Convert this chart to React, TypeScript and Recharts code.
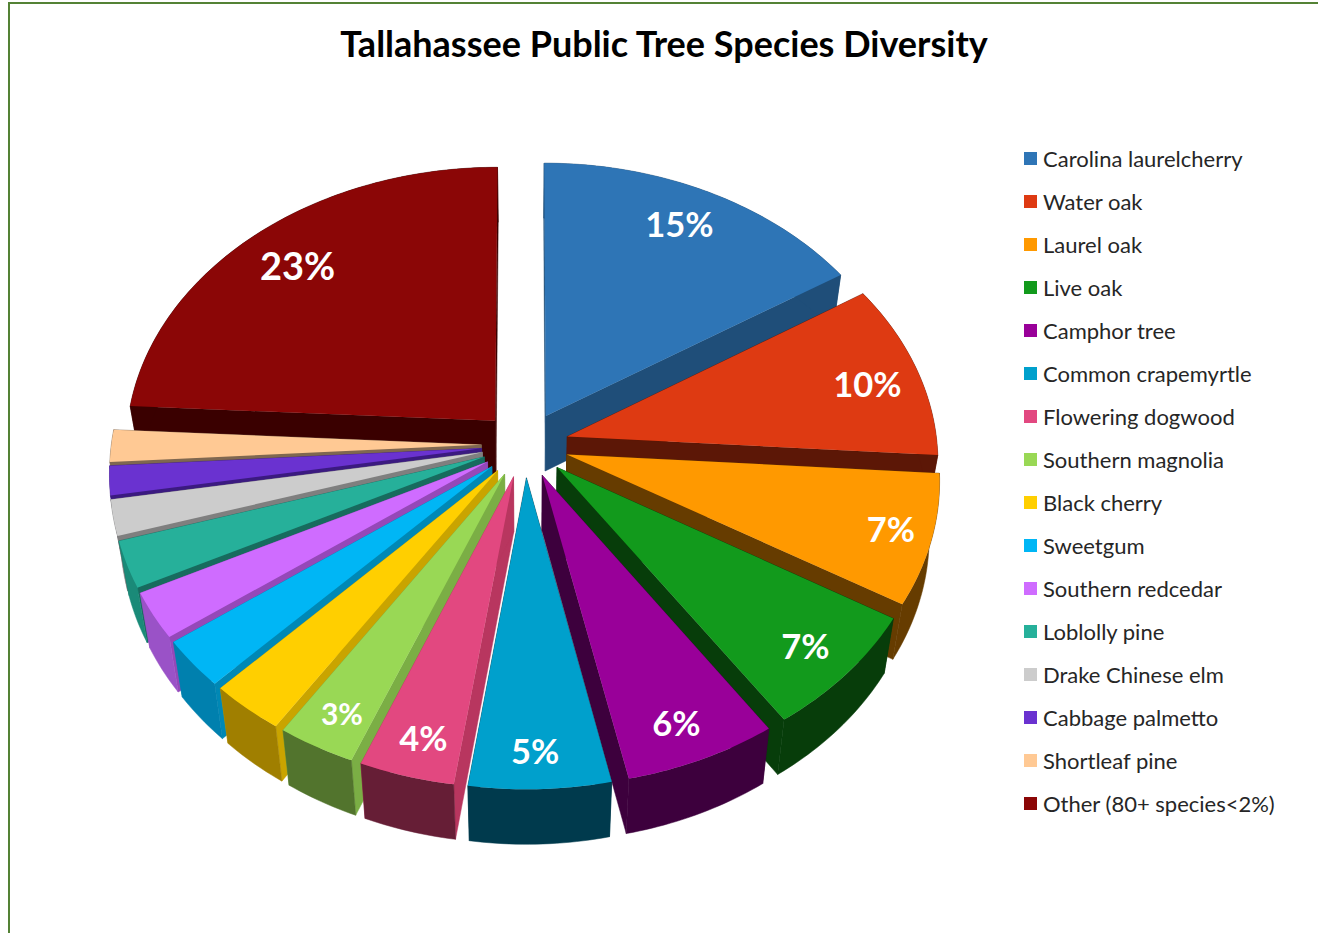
import React from 'react';
import { PieChart, Pie, Legend } from 'recharts';

const categories = [
  'Carolina laurelcherry', 'Water oak', 'Laurel oak', 'Live oak', 'Camphor tree', 'Common crapemyrtle',
  'Flowering dogwood', 'Southern magnolia', 'Black cherry', 'Sweetgum', 'Southern redcedar', 'Loblolly pine',
  'Drake Chinese elm', 'Cabbage palmetto', 'Shortleaf pine', 'Other (80+ species<2%)',
];
const shares = [15.85, 10.03, 7.42, 6.95, 6.08, 5.6, 3.77, 3.1, 2.95, 2.75, 2.64, 2.66, 2.03, 1.67, 1.83, 23.97];
const percentLabels = ['15%', '10%', '7%', '7%', '6%', '5%', '4%', '3%', '', '', '', '', '', '', '', '23%'];

const topColors = [
  '#2e75b6', '#de3a12', '#ff9900', '#129a1c', '#990099', '#00a0cc', '#e24880', '#99d855',
  '#ffcf00', '#00b6f5', '#cf6cff', '#26b09a', '#cccccc', '#6a32d0', '#ffc994', '#8b0606',
];
const outerWalls = [
  '#1f4e79', '#5c1706', '#663c00', '#073d0a', '#3d003d', '#003a4d', '#661e36', '#52742d',
  '#a07f00', '#0080ae', '#9a52c7', '#1a8a78', '#7f7f7f', '#3b1a80', '#7f6750', '#3a0000',
];
const sideWalls = [
  '#1f4e79', '#5c1706', '#663c00', '#073d0a', '#3d003d', '#003a4d', '#b8365f', '#7bae45',
  '#c9a400', '#0088b5', '#9548b8', '#176b5e', '#7f7f7f', '#3b1a80', '#7f6750', '#3a0000',
];
// back slices get painted first
const paintOrder = [15, 0, 14, 1, 13, 2, 12, 3, 11, 4, 10, 9, 8, 7, 6, 5];

// small pixel tweaks for the percent labels, by slice index
const labelNudge: Record<number, number[]> = {
  0: [-2, -6], 1: [5, 4], 2: [12, 1], 3: [-2, 0], 4: [-5, 1], 5: [-3, 2], 6: [3, 0], 7: [1, 2], 15: [0, 1],
};

const tableData = categories.map((name, idx) => ({ name, value: shares[idx], idx }));

const RAD = Math.PI / 180;
const SQUASH = 279 / 370;
const PERSPECTIVE = 0.085;
const EXPLODE = 0.118;
const DEPTH = 55;
const CONVERGE = 0.025;

// angle + radius fraction on the tilted disc -> screen point
const project = (p: any, angle: number, r: number, down = 0) => {
  const mid = p.midAngle * RAD;
  const X = EXPLODE * Math.cos(mid) + r * Math.cos(angle * RAD);
  const Y = -(EXPLODE * Math.sin(mid) + r * Math.sin(angle * RAD));
  const s = 1 / (1 - PERSPECTIVE * Y);
  const shrink = down ? 1 - CONVERGE : 1;
  return [p.cx + p.outerRadius * X * s * shrink, p.cy + p.outerRadius * SQUASH * Y * s + down];
};

const toPath = (pts: number[][]) => 'M' + pts.map((q) => q[0].toFixed(2) + ',' + q[1].toFixed(2)).join('L') + 'Z';

const arcPoints = (p: any, down = 0) => {
  const pts: number[][] = [];
  const steps = Math.max(2, Math.ceil(Math.abs(p.endAngle - p.startAngle)));
  for (let i = 0; i <= steps; i++) {
    pts.push(project(p, p.startAngle + ((p.endAngle - p.startAngle) * i) / steps, 1, down));
  }
  return pts;
};

const wallShape = (which: number) => (props: any) => {
  const idx = props.payload?.idx ?? props.idx;
  if (idx !== which) return <g />;
  const apexTop = project(props, 0, 0);
  const apexLow = project(props, 0, 0, DEPTH);
  const top = arcPoints(props);
  const low = arcPoints(props, DEPTH);
  const first = top[0];
  const firstLow = low[0];
  const last = top[top.length - 1];
  const lastLow = low[low.length - 1];
  return (
    <g>
      <path d={toPath([apexTop, first, firstLow, apexLow])} fill={sideWalls[idx]} stroke={sideWalls[idx]} strokeWidth={0.5} />
      <path d={toPath([apexTop, last, lastLow, apexLow])} fill={sideWalls[idx]} stroke={sideWalls[idx]} strokeWidth={0.5} />
      <path d={toPath([...top, ...low.reverse()])} fill={outerWalls[idx]} stroke={outerWalls[idx]} strokeWidth={0.5} />
    </g>
  );
};

const topShape = (props: any) => {
  const idx = props.payload?.idx ?? props.idx;
  return <path d={toPath([project(props, 0, 0), ...arcPoints(props)])} fill={topColors[idx]} />;
};

const labelSize = (idx: number) => (idx === 7 ? 30 : idx === 15 ? 38 : 34.5);

const renderPercent = (props: any) => {
  const idx = props.payload?.idx ?? props.index;
  if (!percentLabels[idx]) return null;
  const r = 0.85 - 0.03 * Math.cos((props.midAngle - 90) * RAD);
  const [x, y] = project(props, props.midAngle, r);
  const [dx, dy] = labelNudge[idx] ?? [0, 0];
  return (
    <text x={x + dx} y={y + dy} fill="#ffffff" fontSize={labelSize(idx)} fontWeight={700} fontFamily="Lato" textAnchor="middle" dominantBaseline="central">
      {percentLabels[idx]}
    </text>
  );
};

const LegendList = () => (
  <div style={{ fontFamily: 'Lato', fontSize: 22, color: '#262626' }}>
    {categories.map((name, i) => (
      <div key={name} style={{ height: 43.07, display: 'flex', alignItems: 'center', whiteSpace: 'nowrap' }}>
        <span style={{ width: 13, height: 13, background: topColors[i], marginRight: 6, flex: 'none' }} />
        {name}
      </div>
    ))}
  </div>
);

const App = () => {
  return (
    <div style={{ position: 'absolute', left: 0, top: 0, width: 1318, height: 933, background: '#ffffff', overflow: 'hidden' }}>
      <div style={{ position: 'absolute', left: 8, top: 2, right: 0, bottom: 0, borderTop: '2px solid #548235', borderLeft: '2px solid #548235' }} />
      <div style={{ position: 'absolute', left: 0, top: 0 }}>
        <PieChart width={1318} height={933} margin={{ top: 0, right: 0, bottom: 0, left: 0 }}>
          <text x={664} y={57} textAnchor="middle" fontFamily="Lato" fontWeight={700} fontSize={36} fill="#000000">
            Tallahassee Public Tree Species Diversity
          </text>
          {paintOrder.map((k) => (
            <Pie
              key={k}
              data={tableData}
              dataKey="value"
              nameKey="name"
              cx={525}
              cy={444.6}
              outerRadius={370}
              startAngle={90}
              endAngle={-270}
              shape={wallShape(k)}
              isAnimationActive={false}
              legendType="none"
            />
          ))}
          <Pie
            data={tableData}
            dataKey="value"
            nameKey="name"
            cx={525}
            cy={444.6}
            outerRadius={370}
            startAngle={90}
            endAngle={-270}
            shape={topShape}
            label={renderPercent}
            labelLine={false}
            isAnimationActive={false}
          />
          <Legend
            layout="vertical"
            content={<LegendList />}
            wrapperStyle={{ position: 'absolute', left: 1024, top: 136.5, width: 290, bottom: 'auto', right: 'auto' }}
          />
        </PieChart>
      </div>
    </div>
  );
};

export default App;
